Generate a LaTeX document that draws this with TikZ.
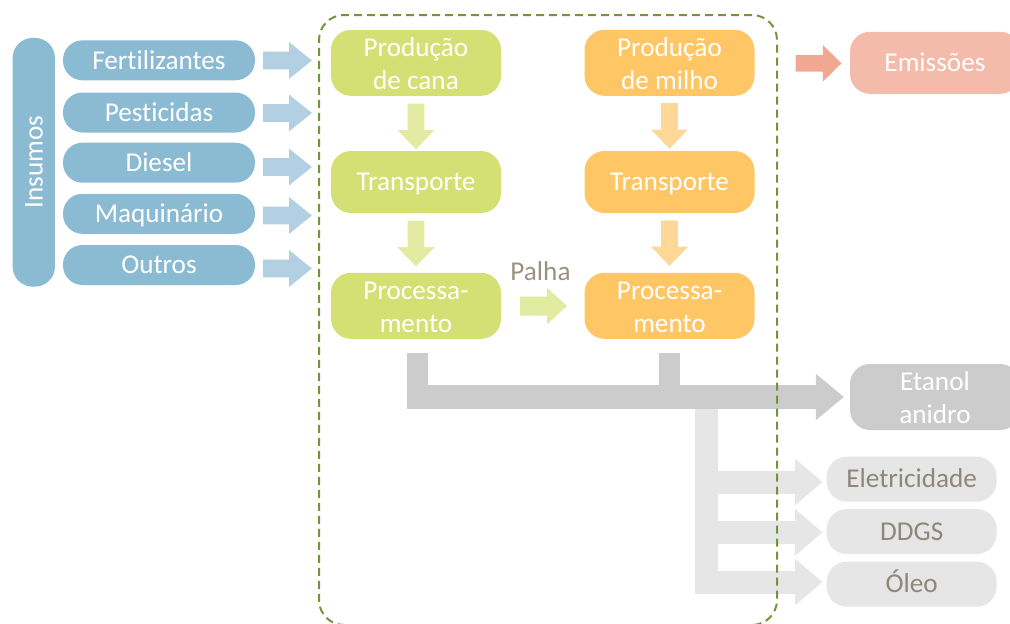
\documentclass[tikz,border=0pt]{standalone}
\usepackage{fontspec}
\setmainfont{Carlito}[Ligatures=NoCommon]
\usetikzlibrary{calc}

\definecolor{inBox}{HTML}{8BBAD3}
\definecolor{inArr}{HTML}{B2D0E2}
\definecolor{caneBox}{HTML}{D4E073}
\definecolor{caneArr}{HTML}{E1EBA2}
\definecolor{cornBox}{HTML}{FFC666}
\definecolor{cornArr}{HTML}{FFD898}
\definecolor{emiBox}{HTML}{F4BBAA}
\definecolor{emiArr}{HTML}{F1A892}
\definecolor{mainFlow}{HTML}{CCCCCC}
\definecolor{coFlow}{HTML}{E6E6E6}
\definecolor{coText}{HTML}{8E887A}
\definecolor{strawText}{HTML}{9A917F}
\definecolor{frameGreen}{HTML}{76923C}

% block arrow pointing right: colour, start point, length, head length, shaft half-width, head half-width
\newcommand{\rightblock}[6]{%
  \fill[#1] #2 ++(0,-#5) -- ++({#3-#4},0) -- ++(0,{#5-#6}) -- ++(#4,#6)
    -- ++(-#4,#6) -- ++(0,{#5-#6}) -- ++({#4-#3},0) -- cycle;}
% block arrow pointing down: same arguments
\newcommand{\downblock}[6]{%
  \fill[#1] #2 ++(-#5,0) -- ++(0,{#3-#4}) -- ++({#5-#6},0) -- ++(#6,#4)
    -- ++(#6,-#4) -- ++({#5-#6},0) -- ++(0,{#4-#3}) -- cycle;}
% two centred lines, set slightly low so the capitals sit in the middle
\newcommand{\twolines}[2]{%
  \raisebox{-3.5pt}[\height][\depth]{\begin{tabular}{@{}c@{}}#1\\#2\end{tabular}}}

\begin{document}
\begin{tikzpicture}[x=1pt,y=-1pt,
  every node/.style={font=\fontsize{27.2}{33}\selectfont, text=white, inner sep=0pt},
  oneline/.style={text height=18.8pt, text depth=1.3pt},
  inpill/.style={oneline, fill=inBox, rounded corners=19.5pt, minimum width=192pt, minimum height=40pt},
  stage/.style={rounded corners=20pt, minimum width=170pt, minimum height=62pt},
  cane/.style={stage, fill=caneBox},
  corn/.style={stage, fill=cornBox},
  coprod/.style={oneline, fill=coFlow, text=coText, rounded corners=20pt, minimum width=170pt, minimum height=45pt}]

\useasboundingbox (0,0) rectangle (1010,624);

% inputs
\node[oneline, fill=inBox, rounded corners=20pt, rotate=90,
      minimum width=248.7pt, minimum height=42.3pt] (ins) at (33.8,162.3) {Insumos};
\node[inpill] (fert) at (159,60.3)  {Fertilizantes};
\node[inpill] (pest) at (159,112.5) {Pesticidas};
\node[inpill] (dies) at (159,162.7) {Diesel};
\node[inpill] (maq)  at (159,213.8) {Maquinário};
\node[inpill] (outr) at (159,265)   {Outros};

% sugarcane chain
\node[cane] (cA) at (416,62.8) {\twolines{Produção}{de cana}};
\node[cane, oneline] (tA) at (416,182) {Transporte};
\node[cane] (pA) at (416,305.8) {\twolines{Processa-}{mento}};

% corn chain
\node[corn] (cB) at (669.5,62.8) {\twolines{Produção}{de milho}};
\node[corn, oneline] (tB) at (669.5,182) {Transporte};
\node[corn] (pB) at (669.5,305.8) {\twolines{Processa-}{mento}};

% outputs
\node[stage, oneline, fill=emiBox] (emi) at (935,62.8) {Emissões};
\node[stage, fill=mainFlow] (eta) at (935,397) {\twolines{Etanol}{anidro}};
\node[coprod] (elec) at (911.7,479.2) {Eletricidade};
\node[coprod] (ddgs) at (911.7,531.5) {DDGS};
\node[coprod] (oleo) at (911.7,584.2) {Óleo};

\node[oneline, text=strawText] (palha) at (540.5,271.7) {Palha};

% input arrows
\rightblock{inArr}{($(fert.east)+(8,0.2)$)}{48.7}{22.7}{8.8}{18.3}
\rightblock{inArr}{($(pest.east)+(8,0.5)$)}{48.7}{22.7}{8.8}{18.3}
\rightblock{inArr}{($(dies.east)+(8,4.3)$)}{48.7}{22.7}{8.8}{18.3}
\rightblock{inArr}{($(maq.east)+(8,1.7)$)}{48.7}{22.7}{8.8}{18.3}
\rightblock{inArr}{($(outr.east)+(8,3.5)$)}{48.7}{22.7}{8.8}{18.3}

% chain arrows
\downblock{caneArr}{($(cA.south)+(0,7.7)$)}{45.6}{19.3}{8.3}{18.5}
\downblock{caneArr}{($(tA.south)+(0,7.7)$)}{45.6}{19.3}{8.3}{18.5}
\downblock{cornArr}{($(cB.south)+(0,7.2)$)}{45.6}{19.3}{8.3}{18.5}
\downblock{cornArr}{($(tB.south)+(0,7.2)$)}{45.6}{19.3}{8.3}{18.5}
\rightblock{caneArr}{($(pA.east)+(19,0.2)$)}{46.7}{20}{9.5}{18.5}
\rightblock{emiArr}{($(emi.west)+(-54.3,0.5)$)}{46}{18.7}{8.3}{18.3}

% co-product flow
\coordinate (tipE) at ($(eta.west)+(-6,0)$);
\coordinate (baseE) at ($(tipE)+(-28,0)$);
\coordinate (split) at ($(pB.south)+(37.4,0)$);
\coordinate (tipL) at ($(elec.west)+(-4,2.8)$);
\coordinate (tipD) at ($(ddgs.west)+(-4,0.8)$);
\coordinate (tipO) at ($(oleo.west)+(-4,-2.2)$);
\coordinate (baseL) at ($(tipL)+(-27.7,0)$);
\coordinate (baseD) at ($(tipD)+(-27.7,0)$);
\coordinate (baseO) at ($(tipO)+(-27.7,0)$);
\begin{scope}[coFlow]
  \draw[line width=23pt, line join=miter] (split |- tipE) |- (baseO);
  \draw[line width=23pt] (split |- baseL) -- (baseL);
  \draw[line width=23pt] (split |- baseD) -- (baseD);
  \fill ($(baseL)+(0,-23.5)$) -- (tipL) -- ($(baseL)+(0,23.5)$) -- cycle;
  \fill ($(baseD)+(0,-23.5)$) -- (tipD) -- ($(baseD)+(0,23.5)$) -- cycle;
  \fill ($(baseO)+(0,-23.5)$) -- (tipO) -- ($(baseO)+(0,23.5)$) -- cycle;
\end{scope}

% ethanol flow
\coordinate (sA) at ($(pA.south)+(1,14)$);
\coordinate (sB) at ($(pB.south)+(0,14)$);
\begin{scope}[mainFlow]
  \draw[line width=21pt] (sA) -- (sA |- tipE);
  \draw[line width=21pt] (sB) -- (sB |- tipE);
  \draw[line width=24.5pt] ($(sA |- tipE)+(-10.5,0)$) -- (baseE);
  \fill ($(baseE)+(0,-23.3)$) -- (tipE) -- ($(baseE)+(0,23.3)$) -- cycle;
\end{scope}

% system boundary
\node[draw=frameGreen, line width=2pt, dash pattern=on 8pt off 5pt,
      rounded corners=25pt, minimum width=458pt, minimum height=610pt] (frame) at (548,320) {};
\end{tikzpicture}
\end{document}
